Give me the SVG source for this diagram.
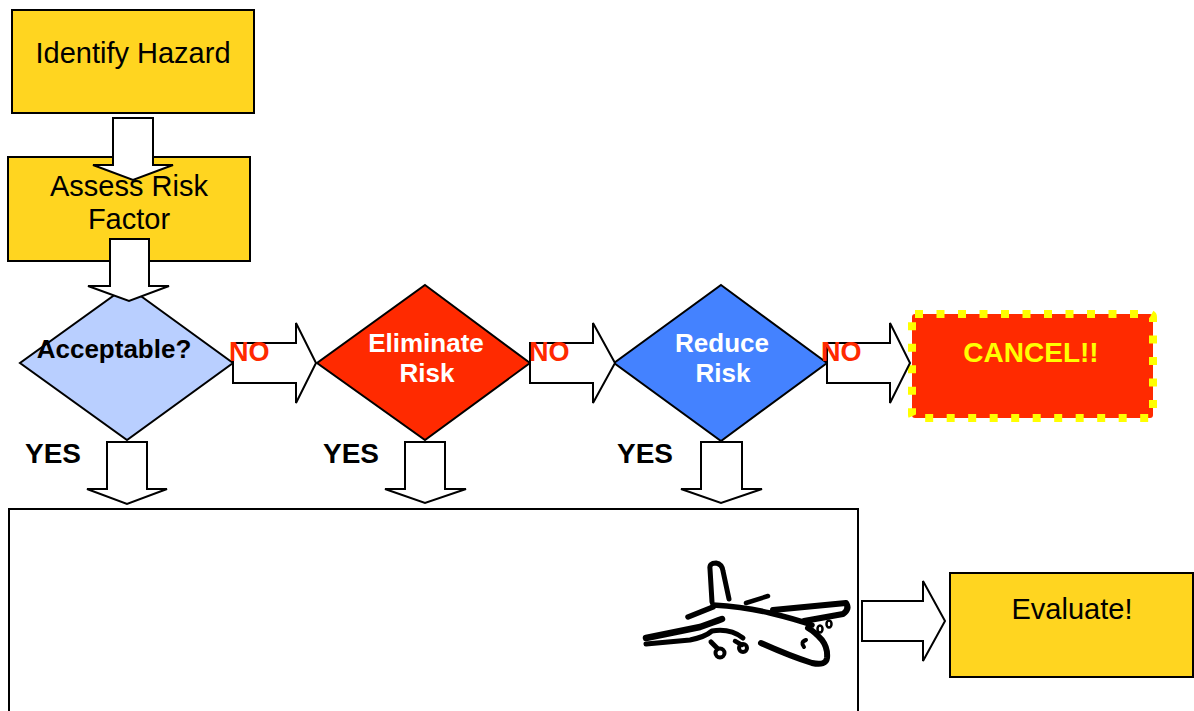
<svg xmlns="http://www.w3.org/2000/svg" width="1194" height="711" viewBox="0 0 1194 711">
  <style>
    .box { fill: #FFD520; stroke: #000; stroke-width: 2; }
    .lbl { font-family: "Liberation Sans", Arial, sans-serif; font-size: 29px; fill: #000; text-anchor: middle; }
    .bold { font-family: "Liberation Sans", Arial, sans-serif; font-weight: bold; text-anchor: middle; }
    .diamond { stroke: #000; stroke-width: 2; stroke-linejoin: miter; }
    .blockarrow { fill: #fff; stroke: #000; stroke-width: 2; stroke-linejoin: miter; }
    .no { font-family: "Liberation Sans", Arial, sans-serif; font-weight: bold; font-size: 27px; fill: #FF2A00; }
    .yes { font-family: "Liberation Sans", Arial, sans-serif; font-weight: bold; font-size: 28px; fill: #000; }
    .ink { fill: none; stroke: #000; stroke-linecap: round; stroke-linejoin: round; }
  </style>
  <rect width="1194" height="711" fill="#fff"/>

  <!-- outcome frame (runs off the bottom edge) -->
  <g id="frame">
    <rect x="9" y="509" width="849" height="230" fill="#fff" stroke="#000" stroke-width="2"/>
  </g>

  <g id="identify">
    <rect class="box" x="12" y="10" width="242" height="103"/>
    <text class="lbl" x="133" y="63">Identify Hazard</text>
  </g>

  <g id="assess">
    <rect class="box" x="8" y="157" width="242" height="104"/>
    <text class="lbl" x="129" y="196">Assess Risk</text>
    <text class="lbl" x="129" y="229">Factor</text>
  </g>

  <g id="acceptable">
    <polygon class="diamond" fill="#B9CFFF" points="127,286 233,363 127,440 20,363"/>
    <text class="bold" x="114" y="358" font-size="26" fill="#000">Acceptable?</text>
  </g>

  <g id="eliminate">
    <polygon class="diamond" fill="#FF2A00" points="425,285 530,363 425,440 317,363"/>
    <text class="bold" x="426" y="352" font-size="26" fill="#fff">Eliminate</text>
    <text class="bold" x="427" y="382" font-size="26" fill="#fff">Risk</text>
  </g>

  <g id="reduce">
    <polygon class="diamond" fill="#4482FF" points="721,285 827,363 721,441 614,363"/>
    <text class="bold" x="722" y="352" font-size="26" fill="#fff">Reduce</text>
    <text class="bold" x="723" y="382" font-size="26" fill="#fff">Risk</text>
  </g>

  <g id="cancel">
    <rect x="912" y="314" width="241" height="104" rx="3" fill="#FF2A00"/>
    <rect x="912" y="314" width="241" height="104" rx="3" fill="none" stroke="#FFFF00" stroke-width="8" stroke-dasharray="8 13.5"/>
    <text class="bold" x="1031" y="362" font-size="28" fill="#FFFF00">CANCEL!!</text>
  </g>

  <g id="evaluate">
    <rect class="box" x="950" y="573" width="243" height="104" fill="#FFD700"/>
    <text class="lbl" x="1072" y="619">Evaluate!</text>
  </g>

  <!-- block arrows between the steps -->
  <g id="connectors">
    <path class="blockarrow" d="M113,118 H153 V165 H173 L133,180 L93,165 H113 Z"/>
    <path class="blockarrow" d="M110,239 H149 V286 H169 L129,301 L88,286 H110 Z"/>
    <path class="blockarrow" d="M233,343 H296 V323 L316,363 L296,403 V383 H233 Z"/>
    <path class="blockarrow" d="M530,343 H593 V323 L615,363 L593,403 V383 H530 Z"/>
    <path class="blockarrow" d="M827,343 H890 V323 L910,363 L890,403 V383 H827 Z"/>
    <path class="blockarrow" d="M107,442 H147 V489 H167 L127,504 L87,489 H107 Z"/>
    <path class="blockarrow" d="M405,442 H445 V489 H466 L425,503 L385,489 H405 Z"/>
    <path class="blockarrow" d="M701,442 H742 V489 H762 L721,503 L681,489 H701 Z"/>
    <path class="blockarrow" d="M862,601 H923 V581 L945,621 L923,661 V641 H862 Z"/>
  </g>

  <g id="labels">
    <text class="no" x="229" y="361">NO</text>
    <text class="no" x="529" y="361">NO</text>
    <text class="no" x="821" y="361">NO</text>
    <text class="yes" x="25" y="463">YES</text>
    <text class="yes" x="323" y="463">YES</text>
    <text class="yes" x="617" y="463">YES</text>
  </g>

  <!-- airplane sketch -->
  <g id="airplane">
    <!-- tail fin -->
    <path class="ink" stroke-width="5" d="M712,602 L710,569 Q709,563 716,563 Q722,564 723,571 L729,599"/>
    <!-- tail plane -->
    <path class="ink" stroke-width="5.5" d="M688,617 L713,607"/>
    <path class="ink" stroke-width="4.5" d="M746,603 L768,596"/>
    <!-- fuselage top -->
    <path class="ink" stroke-width="5.5" d="M713,605 Q745,607 770,613 Q795,619 812,625"/>
    <!-- far wing -->
    <path class="ink" stroke-width="6" d="M773,610 L846,603 Q850,609 843,614 L804,621"/>
    <!-- near wing -->
    <path class="ink" stroke-width="6.5" d="M646,638 L700,627 Q714,622 722,619"/>
    <path class="ink" stroke-width="5" d="M646,644 L690,640 Q705,637 712,631 Q730,628 743,638"/>
    <!-- fuselage bottom and nose -->
    <path class="ink" stroke-width="6" d="M761,643 Q790,656 812,663 Q826,666 827,658 Q828,648 822,640 Q815,632 808,628"/>
    <path class="ink" stroke-width="4" d="M806,640 Q800,642 804,647"/>
    <!-- engines -->
    <path class="ink" stroke-width="5" d="M711,642 L719,650"/>
    <circle cx="720" cy="653" r="4.5" fill="#fff" stroke="#000" stroke-width="4"/>
    <circle cx="743" cy="648" r="4" fill="#fff" stroke="#000" stroke-width="4"/>
    <path class="ink" stroke-width="4.5" d="M735,641 L742,645"/>
    <!-- cockpit windows -->
    <ellipse cx="820" cy="629" rx="2.5" ry="3.5" fill="#fff" stroke="#000" stroke-width="2.5"/>
    <ellipse cx="829" cy="624" rx="2.5" ry="3.5" fill="#fff" stroke="#000" stroke-width="2.5"/>
  </g>
</svg>
